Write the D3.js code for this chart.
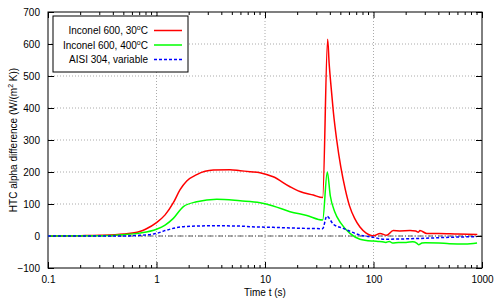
<!DOCTYPE html>
<html>
<head>
<meta charset="utf-8">
<script src="https://cdn.jsdelivr.net/npm/d3@7"></script>
<style>
  body { margin: 0; background: #fff; font-family: "Liberation Sans", Arial, sans-serif; }
  text { font-size: 10px; fill: #000; }
</style>
</head>
<body>
<script>
// time (s) and HTC difference values
var tRed   = [0.1, 0.2, 0.3, 0.5, 0.7, 0.8, 1, 1.2, 1.43, 1.65, 1.9, 2.35, 3.34, 4.76, 5.9, 7.3, 9, 11.9, 17, 21, 27.9, 34, 37.8, 39, 40.3, 42.6, 45.8, 50, 55, 60, 67, 75, 85, 95, 100, 115, 132, 152, 175, 217, 245, 259, 268, 310, 400, 600, 905];
var vRed   = [0, 1, 2, 6, 14, 22, 42, 66, 104, 145, 172, 192, 206, 207, 204, 201, 198, 185, 154, 139, 128, 120, 615, 540, 480, 390, 300, 215, 145, 95, 55, 28, 10, 2, 1, 8, 2, 17, 16, 17, 16, 12, 17, 8, 8, 6, 5];
var tGreen = [0.1, 0.3, 0.5, 0.7, 1, 1.2, 1.43, 1.77, 2.35, 3.59, 5.9, 9, 11.9, 17, 24.3, 34, 37.5, 40, 44, 50, 60.7, 75, 100, 110, 120, 130, 140, 150, 170, 200, 230, 250, 260, 280, 300, 400, 500, 700, 900];
var vGreen = [0, 1, 4, 9, 21, 34, 55, 92, 107, 115, 110, 104, 94, 76, 64, 50, 200, 125, 75, 40, 8, -10, -16, -17, -18, -20, -17, -22, -20, -20, -18, -22, -27, -22, -21, -22, -24, -25, -22];
var tBlue  = [0.1, 0.5, 0.7, 1, 1.2, 1.77, 3.34, 5.9, 7.3, 11.9, 34, 37.1, 42.6, 52.6, 75, 100, 122, 248, 503, 890];
var vBlue  = [0, 0, 2, 8, 17, 29, 32, 31, 29, 27, 23, 62, 37, 24, 3, -4, -10, -8, -4, -2];

var xTicks = [0.1, 1, 10, 100, 1000];
var yTicks = [-100, 0, 100, 200, 300, 400, 500, 600, 700];

var series = [
  {name: "Inconel 600, 30", sup: "o", tail: "C", t: tRed, v: vRed, color: "#ff0000", dash: null},
  {name: "Inconel 600, 400", sup: "o", tail: "C", t: tGreen, v: vGreen, color: "#00ff00", dash: null},
  {name: "AISI 304, variable", sup: "", tail: "", t: tBlue, v: vBlue, color: "#0000ff", dash: "3,2"}
];

var margin = {top: 12, right: 18, bottom: 32, left: 48},
    width = 500 - margin.left - margin.right,
    height = 300 - margin.top - margin.bottom;

var x = d3.scaleLog().domain([0.1, 1000]).range([0, width]);
var y = d3.scaleLinear().domain([-100, 700]).range([height, 0]);

var svg = d3.select("body").append("svg")
    .attr("width", 500)
    .attr("height", 300)
  .append("g")
    .attr("transform", "translate(" + margin.left + "," + margin.top + ")");

// minor ticks of the log axis
var minor = [];
for (var d = 0.1; d < 1000; d *= 10) {
  for (var k = 2; k <= 9; k++) minor.push(d * k);
}

// grid
svg.append("g").selectAll("line").data(xTicks.slice(1, -1)).enter().append("line")
    .attr("x1", d => x(d)).attr("x2", d => x(d))
    .attr("y1", 0).attr("y2", height)
    .attr("stroke", "#aaa").attr("stroke-width", 1).attr("stroke-dasharray", "1,2");
svg.append("g").selectAll("line").data(yTicks.slice(1, -1)).enter().append("line")
    .attr("x1", 0).attr("x2", width)
    .attr("y1", d => y(d)).attr("y2", d => y(d))
    .attr("stroke", "#aaa").attr("stroke-width", 1).attr("stroke-dasharray", "1,2");

// zero line
svg.append("line")
    .attr("x1", 0).attr("x2", width)
    .attr("y1", y(0)).attr("y2", y(0))
    .attr("stroke", "#333").attr("stroke-width", 0.8)
    .attr("stroke-dasharray", "5,2,1,2");

// axes with inward ticks
var xAxis = d3.axisBottom(x).tickValues(xTicks).tickFormat(d3.format("")).tickSizeInner(-6).tickSizeOuter(0).tickPadding(8);
var gx = svg.append("g").attr("transform", "translate(0," + height + ")").call(xAxis);
gx.select(".domain").remove();
gx.selectAll("text").style("font-size", "10px").attr("font-family", "Liberation Sans, Arial, sans-serif");

var gxt = svg.append("g").call(d3.axisTop(x).tickValues(xTicks).tickFormat("").tickSizeInner(-6).tickSizeOuter(0));
gxt.select(".domain").remove();

[[height, -3], [0, 3]].forEach(function(p) {
  svg.append("g").selectAll("line").data(minor).enter().append("line")
      .attr("x1", d => x(d)).attr("x2", d => x(d))
      .attr("y1", p[0]).attr("y2", p[0] + p[1])
      .attr("stroke", "#000");
});

var yAxis = d3.axisLeft(y).tickValues(yTicks).tickSizeInner(-6).tickSizeOuter(0).tickPadding(8);
var gy = svg.append("g").call(yAxis);
gy.select(".domain").remove();
gy.selectAll("text").style("font-size", "10px").attr("font-family", "Liberation Sans, Arial, sans-serif");

var gyr = svg.append("g").attr("transform", "translate(" + width + ",0)")
    .call(d3.axisRight(y).tickValues(yTicks).tickFormat("").tickSizeInner(-6).tickSizeOuter(0));
gyr.select(".domain").remove();

// frame
svg.append("rect")
    .attr("width", width).attr("height", height)
    .attr("fill", "none").attr("stroke", "#000").attr("stroke-width", 1);

// curves
var line = d3.line()
    .x(d => x(d[0]))
    .y(d => y(d[1]))
    .curve(d3.curveMonotoneX);

series.forEach(function(s) {
  svg.append("path")
      .datum(s.t.map((t, i) => [t, s.v[i]]))
      .attr("d", line)
      .attr("fill", "none")
      .attr("stroke", s.color)
      .attr("stroke-width", 1.5)
      .attr("stroke-dasharray", s.dash);
});

// legend
var legend = svg.append("g").attr("transform", "translate(5,4)");
legend.append("rect")
    .attr("width", 135).attr("height", 56)
    .attr("fill", "#fff").attr("stroke", "#000").attr("stroke-width", 1);

series.forEach(function(s, i) {
  var yy = 14.5 + i * 14.5;
  var txt = legend.append("text")
      .attr("x", 95).attr("y", yy + 3.5)
      .attr("text-anchor", "end");
  txt.append("tspan").text(s.name);
  if (s.sup) {
    txt.append("tspan").attr("dy", -4).style("font-size", "7px").text(s.sup);
    txt.append("tspan").attr("dy", 4).text(s.tail);
  }
  legend.append("line")
      .attr("x1", 101).attr("x2", 129)
      .attr("y1", yy).attr("y2", yy)
      .attr("stroke", s.color).attr("stroke-width", 1.5)
      .attr("stroke-dasharray", s.dash);
});

// axis titles
svg.append("text")
    .attr("x", width / 2).attr("y", height + 28)
    .attr("text-anchor", "middle")
    .text("Time t (s)");

var yl = svg.append("text")
    .attr("transform", "translate(" + (-31) + "," + (height / 2) + ") rotate(-90)")
    .attr("text-anchor", "middle");
yl.append("tspan").text("HTC alpha difference  (W/(m");
yl.append("tspan").attr("dy", -4).style("font-size", "7px").text("2");
yl.append("tspan").attr("dy", 4).text(" K))");
</script>
</body>
</html>
